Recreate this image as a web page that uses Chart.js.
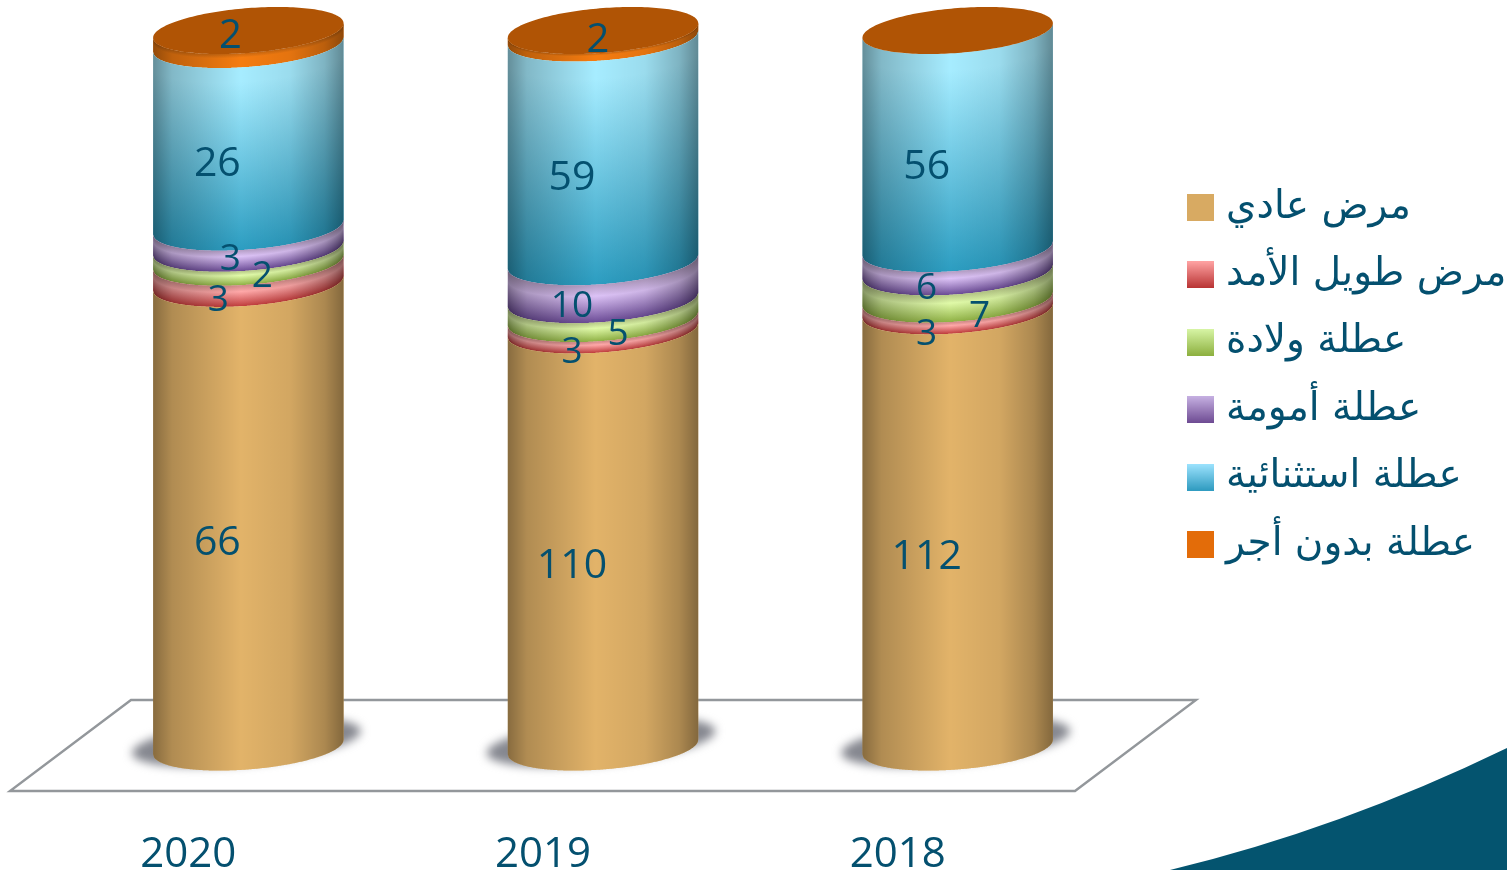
<!DOCTYPE html>
<html lang="ar">
<head>
<meta charset="utf-8">
<style>html,body{margin:0;padding:0;background:#fff;overflow:hidden}canvas{display:block}</style>
<script src="https://cdn.jsdelivr.net/npm/chart.js@4"></script>
</head>
<body>
<canvas id="c" width="1507" height="870" style="width:1507px;height:870px"></canvas>
<script>
const years = ['2020', '2019', '2018'];
const seriesNames = ['مرض عادي', 'مرض طويل الأمد', 'عطلة ولادة', 'عطلة أمومة', 'عطلة استثنائية', 'عطلة بدون أجر'];
const ordinarySick = [66, 110, 112];
const longSick = [3, 3, 3];
const birthLeave = [2, 5, 7];
const maternityLeave = [3, 10, 6];
const exceptionalLeave = [26, 59, 56];
const unpaidLeave = [2, 2, 0];
const seriesValues = [ordinarySick, longSick, birthLeave, maternityLeave, exceptionalLeave, unpaidLeave];

const topColors = ['#E2B369', '#FFA8A8', '#E0FAA8', '#DCC2F6', '#A6ECFF', '#F57C10'];
const bottomColors = ['#E2B369', '#C03C3C', '#8FB144', '#6B4B96', '#2C9DC1', '#F57C10'];
const swatchTop = ['#D8AA62', '#FFA3A3', '#D8F6A6', '#C6B0E2', '#9EE4FF', '#E36C09'];
const swatchBottom = ['#D8AA62', '#B83232', '#8DB03F', '#6D4A92', '#2F9BC0', '#E36C09'];
const inkColor = '#04506F';
const capColor = '#B05405';
const floorColor = '#93979B';

// label tweaks per series/year: dx, dy, font size
const labelTweaks = {
  '1,0': [1, 0, 37], '2,0': [45, -7, 37], '3,0': [13, -6, 37], '5,0': [13, -29, 40],
  '1,1': [0, 0, 37], '2,1': [46, -3, 37], '3,1': [0, -2, 37], '5,1': [26, -22, 40],
  '1,2': [0, 1, 37], '2,2': [53, 3, 37], '3,2': [0, 0, 37]
};

const totals = years.map((_, i) => seriesValues.reduce((s, v) => s + v[i], 0));
const TILT = 0.076, DEPTH_RATIO = 22.4 / 95.25;

function frontY(yc, cx, a, x) {
  const t = Math.min(1, Math.abs((x - cx) / a));
  return yc - TILT * (x - cx) + a * DEPTH_RATIO * Math.sqrt(1 - t * t);
}

Chart.BarElement.prototype.draw = function (ctx) {
  const { x: cx, y: yTop, base: yBase, width } = this.getProps(['x', 'y', 'base', 'width']);
  const h = Math.abs(yBase - yTop);
  if (h < 0.01) return;
  const a = width / 2, L = cx - a, R = cx + a;
  ctx.save();
  ctx.beginPath();
  for (let x = L; x <= R; x += 1) ctx.lineTo(x, frontY(yBase, cx, a, x));
  ctx.lineTo(R, frontY(yBase, cx, a, R));
  for (let x = R; x >= L; x -= 1) ctx.lineTo(x, frontY(yTop, cx, a, x));
  ctx.lineTo(L, frontY(yTop, cx, a, L));
  ctx.closePath();
  ctx.clip();
  const c1 = this.options.backgroundColor, c2 = this.options.borderColor;
  const thin = h < 80;
  for (let x = Math.floor(L); x < R; x++) {
    const y0 = frontY(yTop, cx, a, x + 0.5), y1 = frontY(yBase, cx, a, x + 0.5);
    const g = ctx.createLinearGradient(0, y0, 0, y1);
    g.addColorStop(0, c1);
    g.addColorStop(thin ? 0.3 : 0.08, c1);
    g.addColorStop(1, c2);
    ctx.fillStyle = g;
    ctx.fillRect(x, y0 - 3, 1.5, y1 - y0 + 6);
    if (thin) {
      const d = ctx.createLinearGradient(0, y0, 0, y1);
      d.addColorStop(0, 'rgba(40,30,20,.22)');
      d.addColorStop(0.3, 'rgba(40,30,20,0)');
      ctx.fillStyle = d;
      ctx.fillRect(x, y0 - 3, 1.5, y1 - y0 + 6);
    }
  }
  const s = ctx.createLinearGradient(L, 0, R, 0);
  s.addColorStop(0, 'rgba(0,0,0,.40)');
  s.addColorStop(0.1, 'rgba(0,0,0,.22)');
  s.addColorStop(0.46, 'rgba(0,0,0,0)');
  s.addColorStop(0.72, 'rgba(0,0,0,.07)');
  s.addColorStop(0.9, 'rgba(0,0,0,.24)');
  s.addColorStop(1, 'rgba(0,0,0,.42)');
  ctx.fillStyle = s;
  ctx.fillRect(L - 1, Math.min(yTop, yBase) - 40, width + 2, h + 90);
  ctx.restore();
};

function ellipsePath(ctx, cx, cy, a, b, k) {
  ctx.beginPath();
  for (let i = 0; i <= 180; i++) {
    const t = i / 180 * Math.PI * 2;
    const dx = a * Math.cos(t);
    ctx.lineTo(cx + dx, cy + b * Math.sin(t) - k * dx);
  }
  ctx.closePath();
}

const decor = {
  id: 'decor',
  afterLayout(chart) {
    const lg = chart.legend, pad = lg.options.labels.padding;
    lg.left = 1194.5 - pad;
    lg.top = 188 - pad;
  },
  beforeDraw(chart) {
    const ctx = chart.ctx, W = chart.width, H = chart.height;
    ctx.save();
    ctx.fillStyle = '#04546F';
    ctx.beginPath();
    ctx.moveTo(W - 337, H);
    ctx.quadraticCurveTo(W - 167, H - 41, W, H - 122);
    ctx.lineTo(W, H);
    ctx.closePath();
    ctx.fill();
    ctx.restore();
  },
  beforeDatasetsDraw(chart) {
    const ctx = chart.ctx, y0 = chart.scales.y.getPixelForValue(0), area = chart.chartArea;
    const backY = y0 - 47, frontFloorY = y0 + 44;
    ctx.save();
    ctx.strokeStyle = floorColor;
    ctx.lineWidth = 2.4;
    ctx.lineJoin = 'miter';
    ctx.beginPath();
    ctx.moveTo(area.left + 60, backY);
    ctx.lineTo(area.right + 61, backY);
    ctx.lineTo(area.right - 60, frontFloorY);
    ctx.lineTo(area.left - 61, frontFloorY);
    ctx.closePath();
    ctx.stroke();
    const meta = chart.getDatasetMeta(0);
    meta.data.forEach(bar => {
      ctx.save();
      ctx.filter = 'blur(5px)';
      ctx.fillStyle = '#85878f';
      ellipsePath(ctx, bar.x - 2, y0 - 5, bar.width * 0.6, 22, 0.097);
      ctx.fill();
      ctx.restore();
    });
    ctx.restore();
  },
  afterDatasetsDraw(chart) {
    const ctx = chart.ctx, yScale = chart.scales.y;
    const yTop = yScale.getPixelForValue(100);
    const meta = chart.getDatasetMeta(0);
    meta.data.forEach(bar => {
      ctx.fillStyle = capColor;
      ellipsePath(ctx, bar.x, yTop, bar.width / 2, bar.width / 2 * DEPTH_RATIO, TILT);
      ctx.fill();
    });
    ctx.fillStyle = inkColor;
    ctx.textAlign = 'center';
    ctx.textBaseline = 'middle';
    seriesValues.forEach((values, s) => {
      const m = chart.getDatasetMeta(s);
      values.forEach((v, i) => {
        if (!v) return;
        const bar = m.data[i];
        const tw = labelTweaks[s + ',' + i] || [0, 0, 41];
        ctx.font = tw[2] + 'px "Open Sans"';
        ctx.fillText(String(v), bar.x - 31 + tw[0], (bar.y + bar.base) / 2 + 28 + tw[1]);
      });
    });
  }
};

function swatch(i) {
  const c = document.createElement('canvas');
  c.width = 27; c.height = 27;
  const x = c.getContext('2d');
  const g = x.createLinearGradient(0, 0, 0, 27);
  g.addColorStop(0, swatchTop[i]);
  g.addColorStop(1, swatchBottom[i]);
  x.fillStyle = g;
  x.fillRect(0, 0, 27, 27);
  return c;
}
const swatches = seriesNames.map((_, i) => swatch(i));

new Chart(document.getElementById('c'), {
  type: 'bar',
  plugins: [decor],
  data: {
    labels: years,
    datasets: seriesNames.map((name, s) => ({
      label: name,
      data: seriesValues[s].map((v, i) => v / totals[i] * 100),
      backgroundColor: topColors[s],
      borderColor: bottomColors[s],
      borderWidth: 0,
      barPercentage: 0.537,
      categoryPercentage: 1,
      clip: false
    }))
  },
  options: {
    responsive: false,
    animation: false,
    devicePixelRatio: 1,
    layout: { padding: { left: 71, top: 30.5, right: 0, bottom: 0 } },
    scales: {
      x: {
        stacked: true,
        grid: { display: false, drawTicks: false },
        border: { display: false },
        afterFit(s) { s.height = 123; },
        ticks: {
          color: inkColor,
          font: { family: '"Open Sans"', size: 42 },
          padding: 83,
          labelOffset: -60,
          maxRotation: 0,
          autoSkip: false
        }
      },
      y: {
        stacked: true,
        position: 'right',
        min: 0,
        max: 100,
        grid: { display: false, drawTicks: false },
        border: { display: false },
        ticks: { display: false },
        afterFit(s) { s.width = 372 - s.chart.legend.width; }
      }
    },
    plugins: {
      tooltip: { enabled: false },
      legend: {
        position: 'right',
        align: 'start',
        textDirection: 'rtl',
        labels: {
          color: inkColor,
          font: { family: '"DejaVu Sans"', size: 39 },
          usePointStyle: true,
          pointStyleWidth: 12,
          boxHeight: 27,
          padding: 28.4,
          generateLabels(chart) {
            return Chart.defaults.plugins.legend.labels.generateLabels(chart).map((it, i) => {
              it.pointStyle = swatches[i];
              return it;
            });
          }
        }
      }
    }
  }
});
</script>
</body>
</html>
